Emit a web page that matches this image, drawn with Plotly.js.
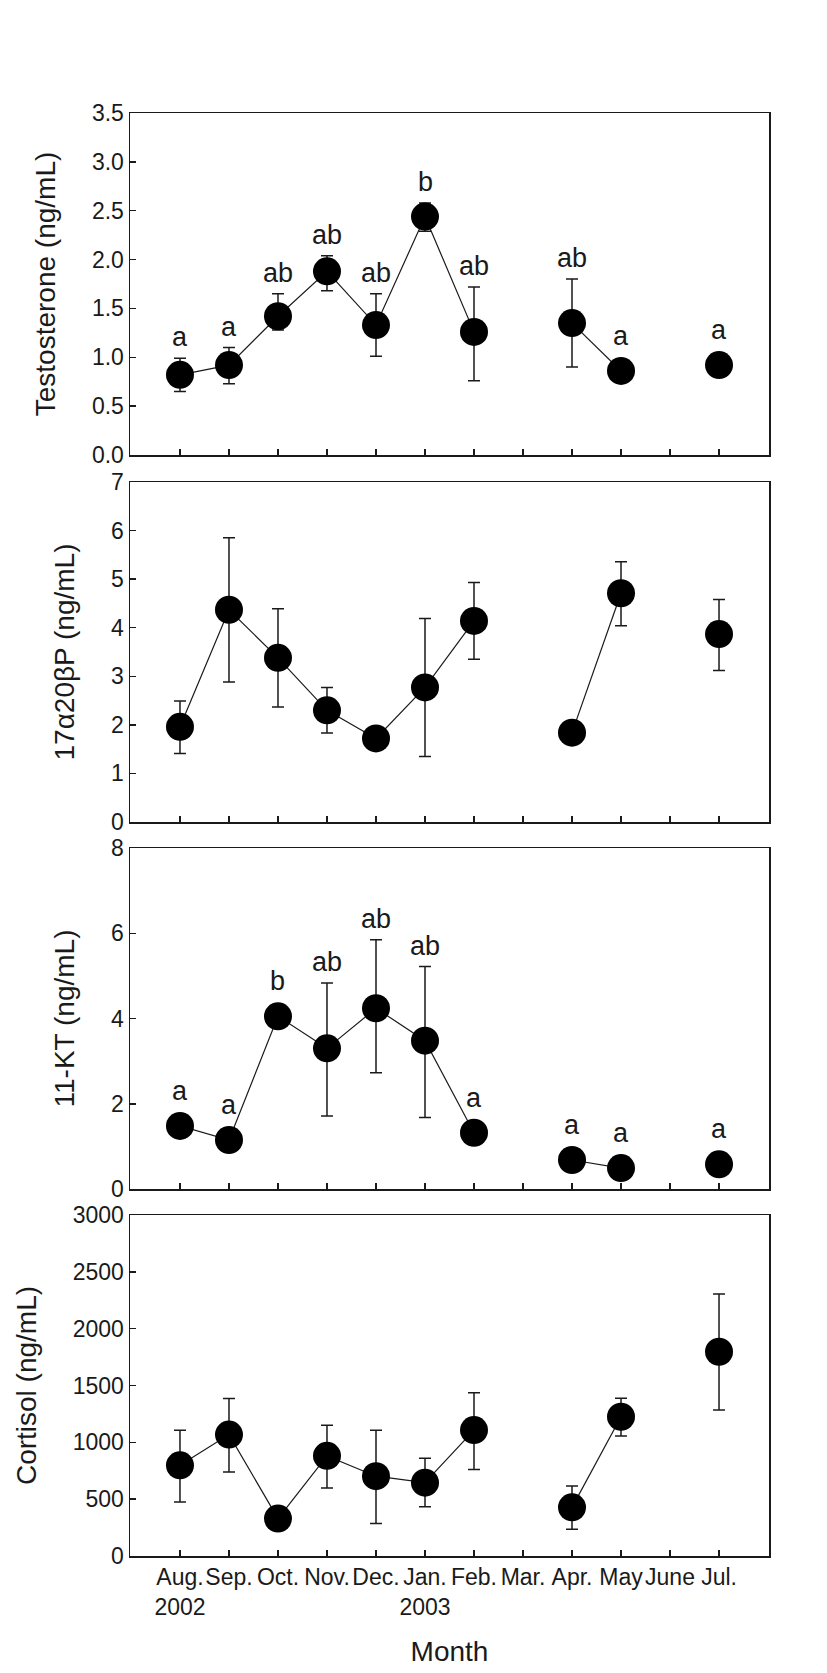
<!DOCTYPE html>
<html>
<head>
<meta charset="utf-8">
<script src="https://cdn.plot.ly/plotly-3.0.1.min.js"></script>
<style>html,body{margin:0;padding:0;background:#fff;}</style>
</head>
<body>
<div id="chart" style="width:827px;height:1673px;"></div>
<script>
// ---------- data ----------
const months = ["Aug.","Sep.","Oct.","Nov.","Dec.","Jan.","Feb.","Mar.","Apr.","May","June","Jul."];
const monthTickText = ["Aug.<br>2002","Sep.","Oct.","Nov.","Dec.","Jan.<br>2003","Feb.","Mar.","Apr.","May","June","Jul."];

const testoMean = [0.82, 0.92, 1.42, 1.88, 1.33, 2.44, 1.26, null, 1.35, 0.86, null, 0.92];
const testoUp   = [0.17, 0.18, 0.23, 0.16, 0.32, 0.14, 0.46, null, 0.45, 0.05, null, 0.05];
const testoDown = [0.17, 0.19, 0.14, 0.20, 0.32, 0.15, 0.50, null, 0.45, 0.05, null, 0.05];
const testoLetters = ["a","a","ab","ab","ab","b","ab","","ab","a","","a"];

const p17Mean = [1.96, 4.37, 3.38, 2.30, 1.72, 2.77, 4.14, null, 1.84, 4.71, null, 3.87];
const p17Up   = [0.53, 1.48, 1.01, 0.47, 0.15, 1.42, 0.79, null, 0.15, 0.65, null, 0.71];
const p17Down = [0.55, 1.49, 1.01, 0.47, 0.15, 1.42, 0.79, null, 0.15, 0.67, null, 0.75];

const ktMean = [1.48, 1.15, 4.05, 3.30, 4.24, 3.48, 1.32, null, 0.68, 0.49, null, 0.58];
const ktUp   = [0.20, 0.20, 0.20, 1.53, 1.61, 1.74, 0.20, null, 0.20, 0.20, null, 0.20];
const ktDown = [0.20, 0.25, 0.20, 1.59, 1.51, 1.80, 0.20, null, 0.20, 0.20, null, 0.20];
const ktLetters = ["a","a","b","ab","ab","ab","a","","a","a","","a"];

const cortMean = [798, 1068, 329, 881, 702, 645, 1108, null, 428, 1225, null, 1797];
const cortUp   = [309, 317, 80, 270, 405, 214, 328, null, 188, 162, null, 507];
const cortDown = [323, 328, 80, 282, 417, 211, 346, null, 193, 170, null, 513];

const yTitles = ["Testosterone (ng/mL)", "17\u03B120\u03B2P (ng/mL)", "11-KT (ng/mL)", "Cortisol (ng/mL)"];

// ---------- layout geometry ----------
const W = 827, H = 1673;
const FONT = "Liberation Sans, Arial, Helvetica, sans-serif";
const INK = "#1a1a1a";
const panelPx = [[113,455],[482,822],[848,1189],[1215,1556]];
const yRanges = [[0,3.5],[0,7],[0,8],[0,3000]];
const yDticks = [0.5, 1, 2, 500];
const yFormats = [".1f", "", "", ""];
const MARKER = 28;

const series = [
  {mean: testoMean, up: testoUp, down: testoDown, letters: testoLetters},
  {mean: p17Mean, up: p17Up, down: p17Down, letters: null},
  {mean: ktMean, up: ktUp, down: ktDown, letters: ktLetters},
  {mean: cortMean, up: cortUp, down: cortDown, letters: null}
];

const traces = [];
const annotations = [];
const layout = {
  width: W, height: H,
  margin: {l:130, r:58, t:0, b:0},
  paper_bgcolor: "#fff", plot_bgcolor: "#fff",
  showlegend: false,
  font: {family: FONT, color: INK},
  annotations: annotations
};

series.forEach((s, k) => {
  const n = k === 0 ? "" : String(k+1);
  const xa = "x" + n, ya = "y" + n;
  traces.push({
    type: "scatter", mode: "lines+markers",
    x: months, y: s.mean,
    xaxis: xa, yaxis: ya,
    connectgaps: false,
    line: {color: INK, width: 1.2},
    marker: {color: "#000", size: MARKER, symbol: "circle"},
    error_y: {type: "data", symmetric: false, array: s.up, arrayminus: s.down,
              color: INK, thickness: 1.5, width: 6},
    hoverinfo: "skip"
  });
  const [t, b] = panelPx[k];
  const ppu = (b - t) / (yRanges[k][1] - yRanges[k][0]);
  const isBottom = k === 3;
  layout["xaxis" + n] = {
    type: "category", categoryorder: "array", categoryarray: months,
    range: [-1.02, 12.02], anchor: ya,
    domain: [0, 1],
    showline: true, linecolor: INK, linewidth: 1.5, mirror: true,
    ticks: "inside", ticklen: 6, tickwidth: 1.5, tickcolor: INK,
    tickmode: "array", tickvals: months,
    ticktext: isBottom ? monthTickText : months,
    showticklabels: isBottom, tickangle: 0,
    tickfont: {family: FONT, size: 23, color: INK},
    showgrid: false, zeroline: false,
    title: isBottom ? {text: "Month", font: {family: FONT, size: 28, color: INK}, standoff: 22} : {text: ""}
  };
  layout["yaxis" + n] = {
    range: yRanges[k], anchor: xa,
    domain: [1 - b / H, 1 - t / H],
    showline: true, linecolor: INK, linewidth: 1.5, mirror: true,
    ticks: "inside", ticklen: 6, tickwidth: 1.5, tickcolor: INK,
    tickmode: "linear", tick0: 0, dtick: yDticks[k], tickformat: yFormats[k],
    tickfont: {family: FONT, size: 23, color: INK},
    showgrid: false, zeroline: false,
    title: {text: yTitles[k], font: {family: FONT, size: 28, color: INK}, standoff: 28}
  };
  if (s.letters) {
    s.letters.forEach((L, i) => {
      if (!L) return;
      const upPx = s.up[i] * ppu;
      const extra = Math.max(0, MARKER / 2 - upPx);
      annotations.push({
        xref: xa, yref: ya, x: months[i], y: s.mean[i] + s.up[i],
        text: L, showarrow: false, xanchor: "center", yanchor: "bottom",
        yshift: 4 + extra,
        font: {family: FONT, size: 27, color: INK}
      });
    });
  }
});

Plotly.newPlot("chart", traces, layout, {staticPlot: true, displayModeBar: false});
</script>
</body>
</html>
